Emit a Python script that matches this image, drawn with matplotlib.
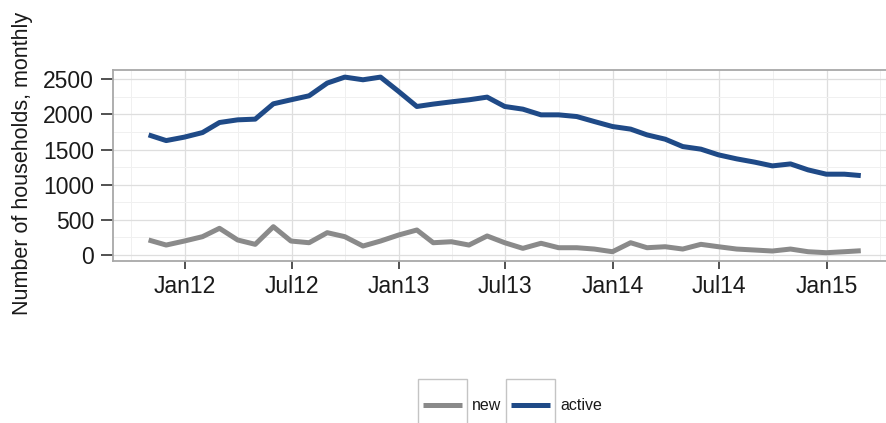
import numpy as np
import pandas as pd
import matplotlib
matplotlib.use("Agg")
from matplotlib import pyplot as plt
import matplotlib.dates as mdates
from matplotlib.patches import Rectangle
from matplotlib.lines import Line2D

# monthly series, Oct 2011 .. Feb 2015 (month-end dates)
months = pd.date_range("2011-10-31", periods=41, freq="ME")
active = [1709, 1628, 1677, 1742, 1885, 1923, 1933, 2151, 2208, 2265,
          2446, 2531, 2493, 2531, 2326, 2113, 2147, 2179, 2208, 2246,
          2113, 2075, 1994, 1994, 1970, 1899, 1828, 1791, 1709, 1648,
          1543, 1506, 1425, 1368, 1321, 1268, 1296, 1211, 1150, 1150, 1130]
new = [214, 142, 199, 261, 380, 214, 152, 403, 199, 175,
       318, 261, 128, 199, 285, 356, 175, 189, 142, 271,
       175, 95, 167, 104, 104, 85, 47, 175, 104, 118,
       85, 152, 118, 85, 71, 57, 85, 47, 33, 47, 61]
yticks = [0, 500, 1000, 1500, 2000, 2500]
series_labels = ["new", "active"]
series_colors = ["#8a8a8a", "#1f4a87"]

W, H = 887, 423
fig = plt.figure(figsize=(W / 100, H / 100), dpi=100)
fig.patch.set_facecolor("white")

ax = fig.add_axes([113 / W, 1 - 261 / H, 783.4 / W, 191 / H])
ax.set_clip_on(True)

ax.plot(months, new, color=series_colors[0], lw=3.6, solid_joinstyle="round", solid_capstyle="butt")
ax.plot(months, active, color=series_colors[1], lw=3.6, solid_joinstyle="round", solid_capstyle="butt")

# ggplot-style 5% expansion on x
span = months[-1] - months[0]
ax.set_xlim(months[0] - 0.05 * span, months[-1] + 0.05 * span)
ax.set_ylim(-85, 2632)

ax.xaxis.set_major_locator(mdates.MonthLocator(bymonth=[1, 7]))
ax.xaxis.set_minor_locator(mdates.MonthLocator(bymonth=[4, 10]))
ax.xaxis.set_major_formatter(mdates.DateFormatter("%b%y"))
ax.set_yticks(yticks)
ax.set_yticks([250, 750, 1250, 1750, 2250], minor=True)

ax.grid(which="major", color="#dedede", lw=0.9)
ax.grid(which="minor", color="#f0f0f0", lw=0.7)
ax.set_axisbelow(True)

for s in ax.spines.values():
    s.set_color("#a8a8a8")
    s.set_linewidth(1.3)

tick_font = {"family": "Liberation Sans", "size": 16.5}
ax.tick_params(axis="x", which="major", length=6, width=1.1, color="#222222", pad=4)
ax.tick_params(axis="y", which="major", length=8.5, width=1.1, color="#222222", pad=5)
ax.tick_params(which="minor", length=0)
for lab in ax.get_xticklabels() + ax.get_yticklabels():
    lab.set_fontfamily("Liberation Sans")
    lab.set_fontsize(16.5)
    lab.set_color("#1a1a1a")

fig.text(23 / W, 1 - 163 / H, "Number of households, monthly", rotation=90,
         ha="center", va="center", fontsize=15.5, family="Liberation Sans", color="#1a1a1a")

# legend with ggplot-like key boxes, bottom centre
def px(x, y):
    return x / W, 1 - y / H

for i, (lab, col) in enumerate(zip(series_labels, series_colors)):
    x0 = 418 + i * 88
    fig.add_artist(Rectangle(px(x0, 431), 49 / W, 52 / H, transform=fig.transFigure,
                             facecolor="white", edgecolor="#c4c4c4", lw=1.0))
    fig.add_artist(Line2D([(x0 + 5) / W, (x0 + 44) / W], [1 - 405 / H] * 2,
                          transform=fig.transFigure, color=col, lw=3.6, solid_capstyle="butt"))
    tx, ty = px(x0 + 54, 405)
    fig.text(tx, ty, lab, ha="left", va="center", fontsize=11.5,
             family="Liberation Sans", color="#1a1a1a")

fig.savefig("out.png", dpi=100)
